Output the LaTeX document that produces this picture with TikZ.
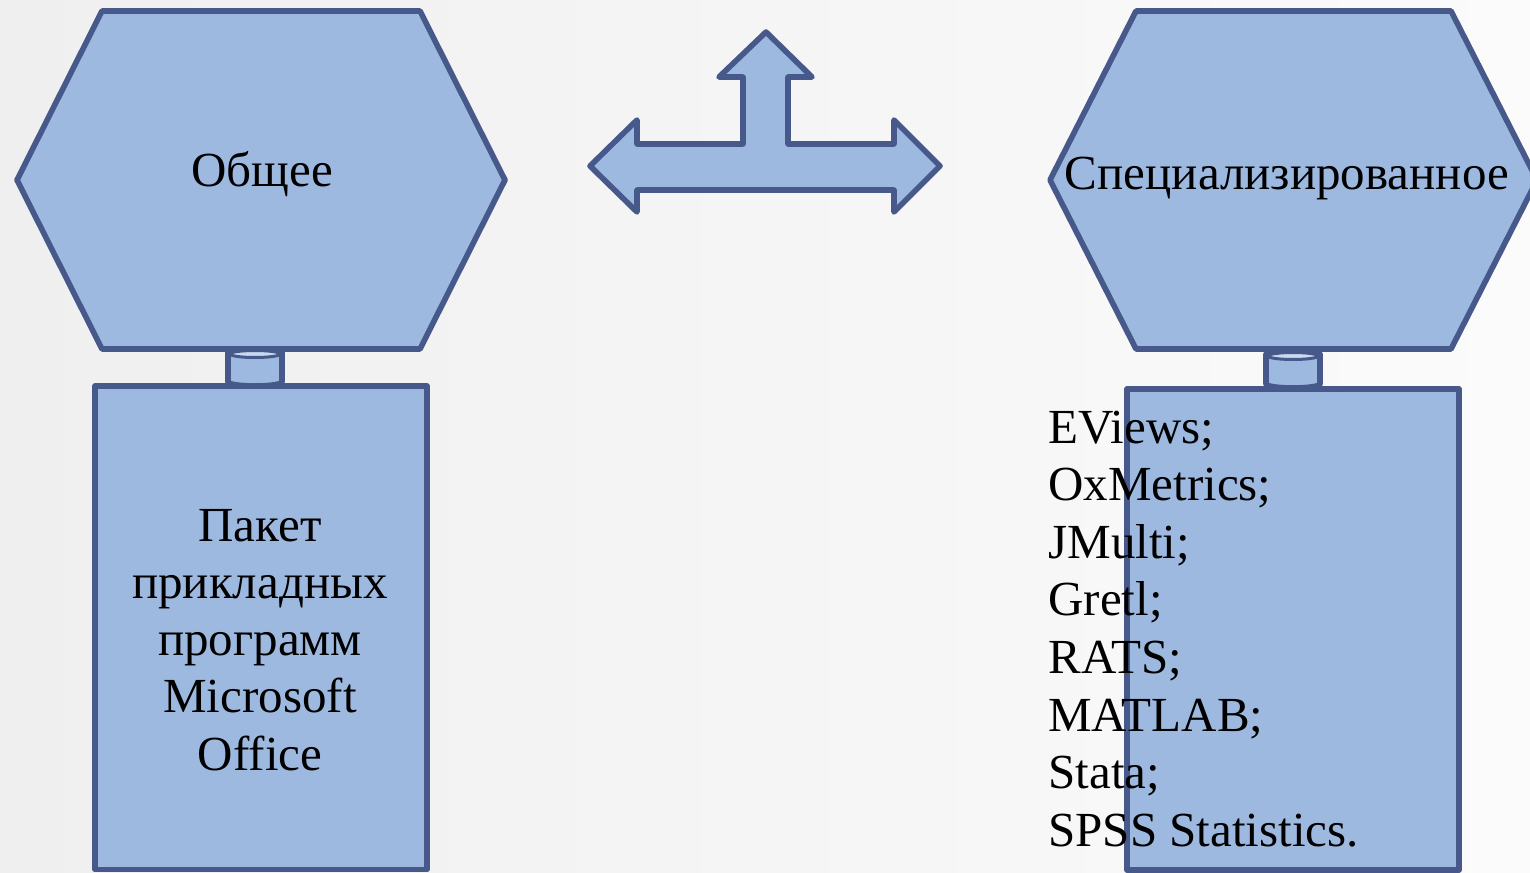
\documentclass[tikz,border=0pt]{standalone}
\usepackage{fontspec}
\setmainfont{Liberation Serif}
\usepackage{xcolor}
\definecolor{ShapeFill}{HTML}{9DB9E0}
\definecolor{ShapeLine}{HTML}{46598A}
\definecolor{CapLight}{HTML}{C9D9F0}
\definecolor{BgLeft}{HTML}{EFEFEF}
\definecolor{BgRight}{HTML}{FBFBFB}
\newcommand{\itemfont}{\fontsize{24.5}{28.75}\selectfont}
\tikzset{
  blueshape/.style={fill=ShapeFill, draw=ShapeLine, line width=2.8pt, line join=round},
  boxtext/.style={font=\itemfont, text=black, inner sep=0pt},
}

\begin{document}
\begin{tikzpicture}[x=0.5pt,y=-0.5pt]
  \shade[left color=BgLeft, right color=BgRight] (0,0) rectangle (1530,872);
  \useasboundingbox (0,0) rectangle (1530,872);
  % cylinders between hexagon and box
  \foreach \x/\y in {255/352, 1293/354}{
    \draw[blueshape] (\x-27,\y) -- (\x-27,\y+30) arc[start angle=180, end angle=0, x radius=27, y radius=4] -- (\x+27,\y) -- cycle;
    \draw[ShapeLine, line width=1.5pt, fill=CapLight] (\x,\y+2) ellipse [x radius=25, y radius=3.5];
  }
  % hexagons
  \draw[blueshape] (17,180) -- (102,11) -- (420,11) -- (505,180) -- (420,349) -- (102,349) -- cycle;
  \draw[blueshape] (1050,180) -- (1136,11) -- (1451,11) -- (1537,180) -- (1451,349) -- (1136,349) -- cycle;
  % boxes
  \draw[blueshape] (95,386) rectangle (427,869.5);
  \draw[blueshape] (1127,389) rectangle (1459,870);
  % three-way arrow
  \draw[blueshape] (590,166) -- (637,120) -- (637,144) -- (743,144) -- (743,77) -- (719,77)
    -- (766,32) -- (812,77) -- (788,77) -- (788,144) -- (894,144) -- (894,120) -- (940,166)
    -- (894,212) -- (894,190) -- (637,190) -- (637,212) -- cycle;
  % texts
  \node[boxtext, anchor=base] (general) at (262,186) {Общее};
  \node[boxtext, anchor=base] (special) at (1287,189) {Специализированное};
  \foreach \i/\t in {0/Пакет, 1/прикладных, 2/программ, 3/Microsoft, 4/Office}{
    \node[boxtext, anchor=base] (pkg\i) at (260,541+57.3*\i) {\t};
  }
  \foreach \i/\t in {0/EViews;, 1/OxMetrics;, 2/JMulti;, 3/Gretl;, 4/RATS;, 5/MATLAB;, 6/Stata;, 7/SPSS Statistics.}{
    \node[boxtext, anchor=base west] (soft\i) at (1048,443+57.6*\i) {\t};
  }
\end{tikzpicture}
\end{document}
